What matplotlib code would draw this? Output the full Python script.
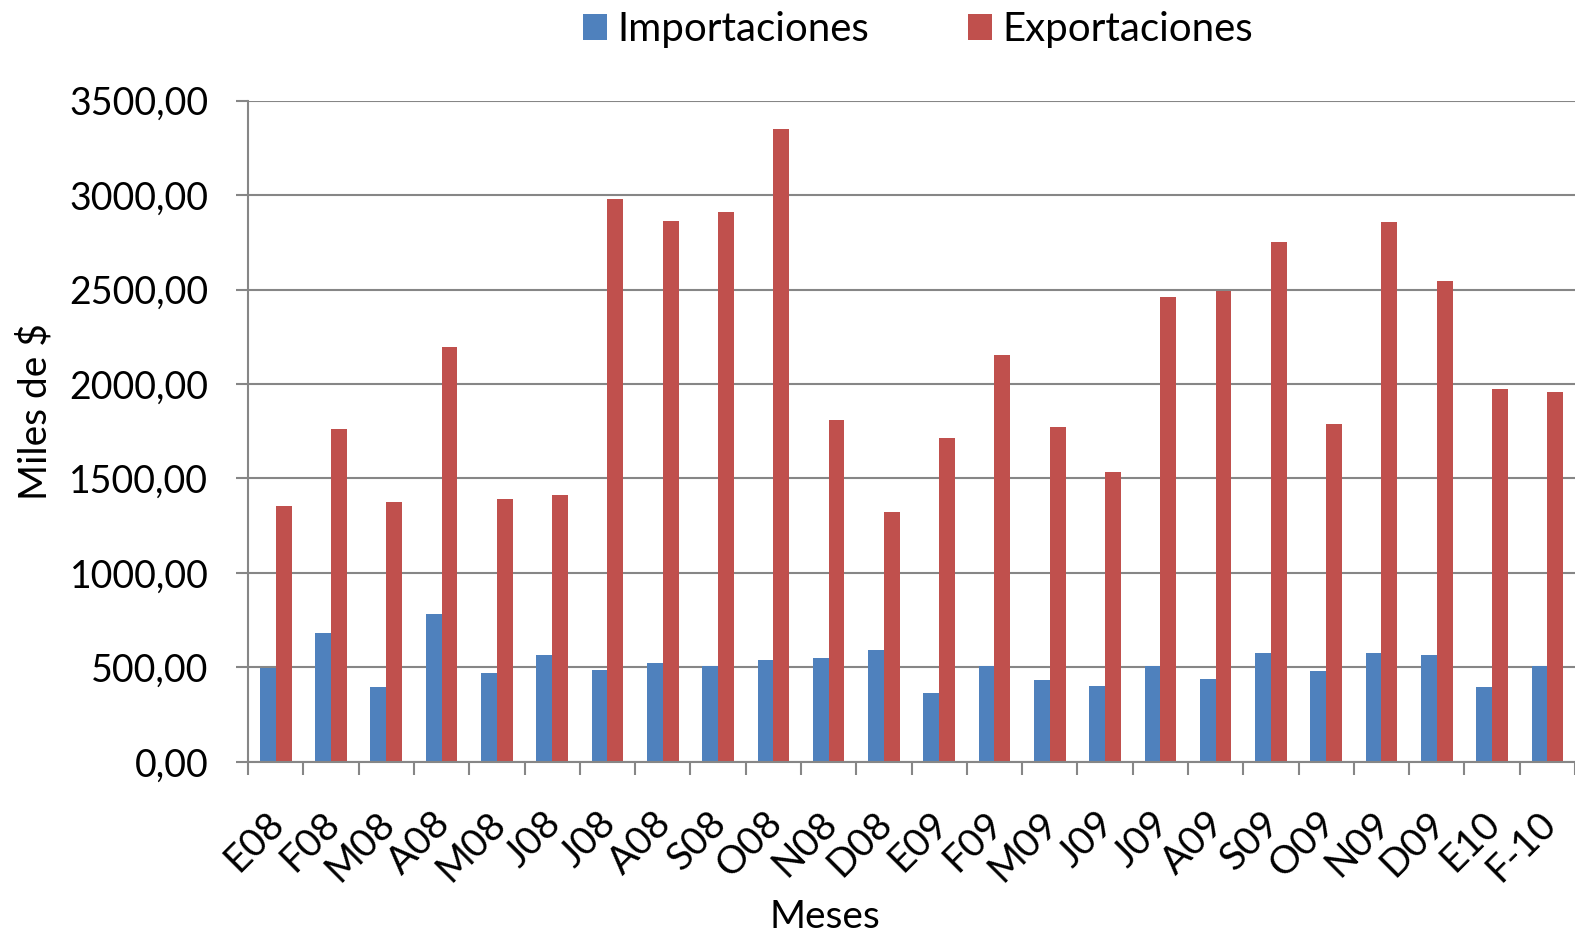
import numpy as np
import matplotlib.pyplot as plt
import matplotlib.transforms as mtransforms
from matplotlib.ticker import FuncFormatter, MultipleLocator

# ----- datos -----
meses = ["E08", "F08", "M08", "A08", "M08", "J08", "J08", "A08", "S08", "O08",
         "N08", "D08", "E09", "F09", "M09", "J09", "J09", "A09", "S09", "O09",
         "N09", "D09", "E10", "F-10"]
importaciones = [495, 681, 399, 782, 468, 564, 489, 521, 505, 537,
                 548, 590, 367, 505, 431, 404, 505, 441, 575, 479,
                 575, 564, 394, 505]
exportaciones = [1357, 1761, 1373, 2197, 1394, 1415, 2979, 2862, 2910, 3351,
                 1809, 1325, 1713, 2155, 1772, 1532, 2458, 2495, 2750, 1788,
                 2857, 2543, 1974, 1958]

azul = "#4F81BD"
rojo = "#C0504D"
gris = "#868686"

plt.rcParams["font.family"] = ["Lato", "DejaVu Sans"]

fig = plt.figure(figsize=(15.75, 9.36), dpi=100)
ax = fig.add_axes([0.1575, 0.186, 0.8425, 0.7065])

x = np.arange(len(meses))
w = 1 / 3.5
ax.bar(x - w / 2, importaciones, width=w, color=azul, label="Importaciones", zorder=3)
ax.bar(x + w / 2, exportaciones, width=w, color=rojo, label="Exportaciones", zorder=3)

ax.set_xlim(-0.5, len(meses) - 0.5)
ax.set_ylim(0, 3500)
ax.yaxis.set_major_locator(MultipleLocator(500))
ax.yaxis.set_major_formatter(FuncFormatter(lambda v, p: f"{v:.2f}".replace(".", ",")))
ax.grid(axis="y", color=gris, linewidth=1.5, zorder=0)

# ticks: etiquetas en el centro, marcas entre categorias
ax.set_xticks(x)
ax.set_xticklabels(meses, rotation=45, ha="right", va="top", rotation_mode="anchor")
ax.set_xticks(np.arange(-0.5, len(meses), 1), minor=True)
ax.tick_params(axis="x", which="major", length=0, pad=31, labelsize=28)
ax.tick_params(axis="x", which="minor", length=9, width=1.5, color=gris)
ax.tick_params(axis="y", length=9, width=1.5, color=gris, labelsize=27, pad=19.5)

desplazar = mtransforms.ScaledTranslation(-10 / 100, 0, fig.dpi_scale_trans)
for lbl in ax.get_xticklabels():
    lbl.set_transform(lbl.get_transform() + desplazar)

for s in ["top", "right"]:
    ax.spines[s].set_visible(False)
for s in ["left", "bottom"]:
    ax.spines[s].set_color(gris)
    ax.spines[s].set_linewidth(1.5)
    ax.spines[s].set_zorder(4)

ax.set_xlabel("Meses", fontsize=28)
ax.xaxis.set_label_coords(0.435, -0.208)
ax.set_ylabel("Miles de $", fontsize=28)
ax.yaxis.set_label_coords(-0.147, 0.53)

ax.legend(loc="upper center", bbox_to_anchor=(0.505, 1.19), ncol=2, frameon=False,
          fontsize=29, handlelength=0.6, handleheight=0.6, handletextpad=0.25,
          columnspacing=2.45)

fig.savefig("out.png", dpi=100)
